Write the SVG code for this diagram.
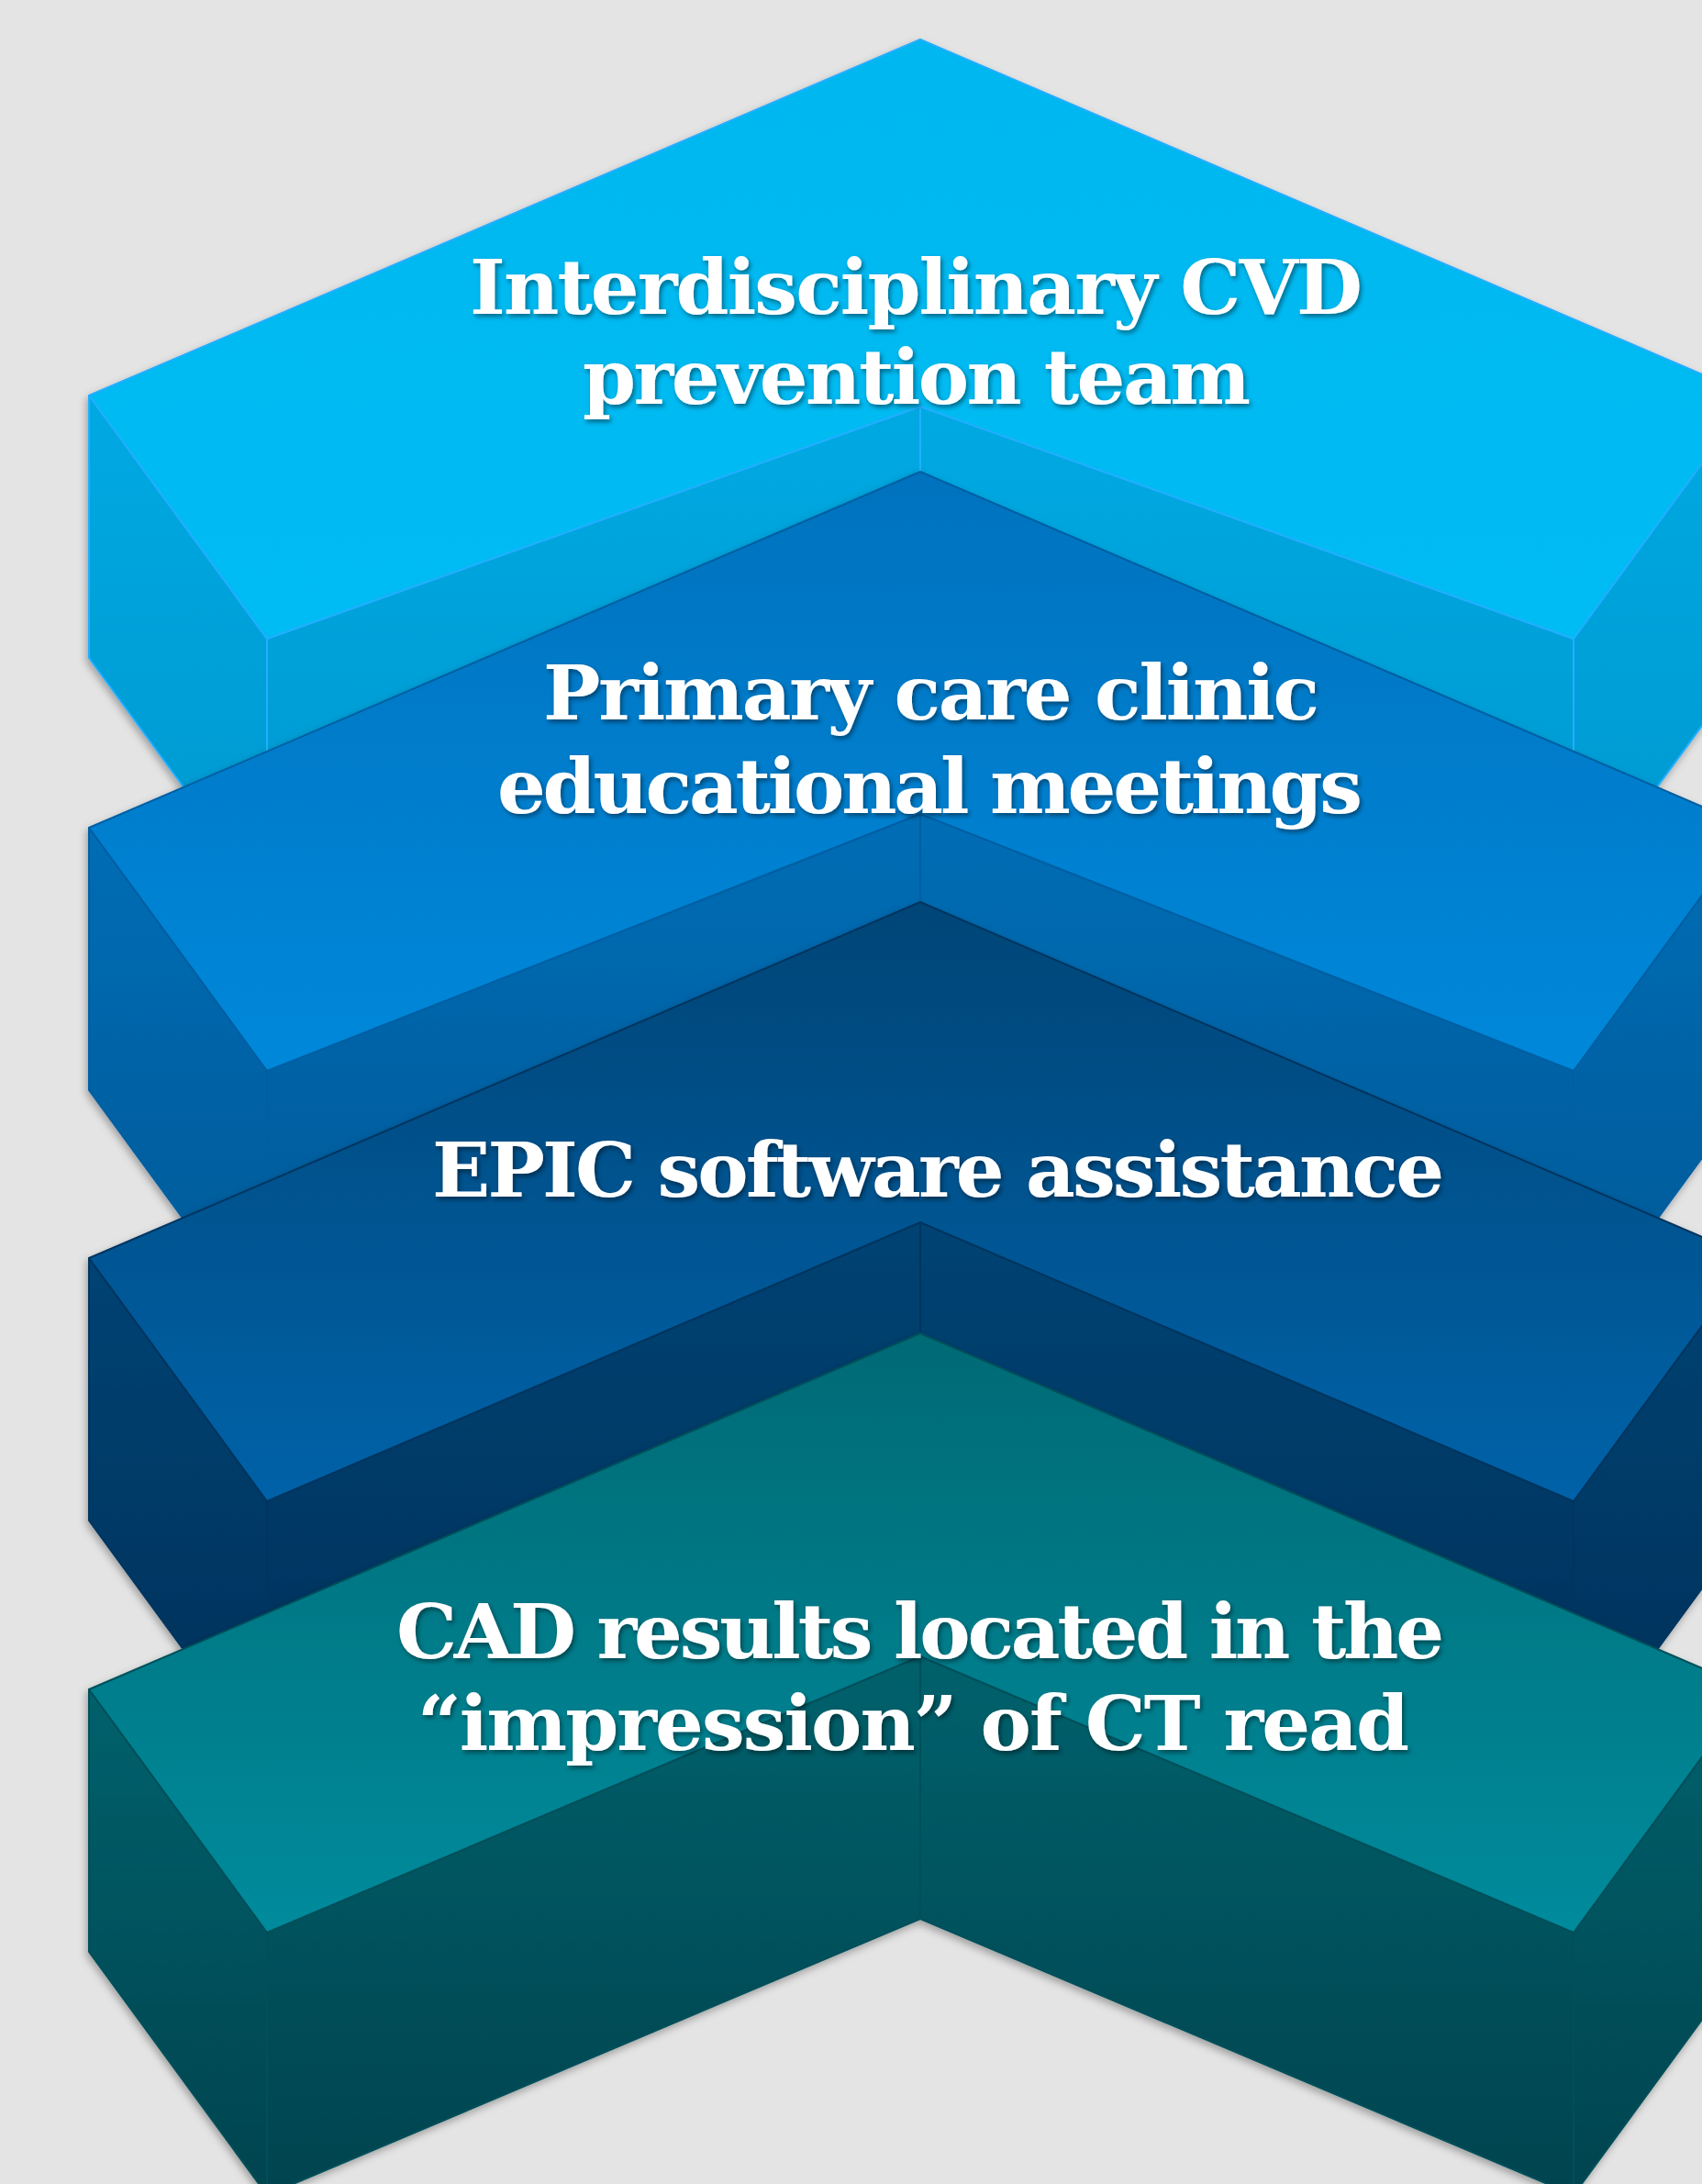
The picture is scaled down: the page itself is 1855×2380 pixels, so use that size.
<svg xmlns="http://www.w3.org/2000/svg" width="1855" height="2380" viewBox="0 0 1855 2380">
  <defs>
    <!-- face gradients, top to bottom -->
    <linearGradient id="c1Top" x1="0" y1="0" x2="0" y2="1"><stop offset="0" stop-color="#00B7EF"/><stop offset="1" stop-color="#00BCF4"/></linearGradient>
    <linearGradient id="c1Side" x1="0" y1="0" x2="0" y2="1"><stop offset="0" stop-color="#00A9E2"/><stop offset="1" stop-color="#0098D0"/></linearGradient>
    <linearGradient id="c2Top" x1="0" y1="0" x2="0" y2="1"><stop offset="0" stop-color="#0072BE"/><stop offset="1" stop-color="#0088DA"/></linearGradient>
    <linearGradient id="c2Side" x1="0" y1="0" x2="0" y2="1"><stop offset="0" stop-color="#006DB5"/><stop offset="1" stop-color="#005896"/></linearGradient>
    <linearGradient id="c3Top" x1="0" y1="0" x2="0" y2="1"><stop offset="0" stop-color="#044577"/><stop offset="1" stop-color="#0662A8"/></linearGradient>
    <linearGradient id="c3Side" x1="0" y1="0" x2="0" y2="1"><stop offset="0" stop-color="#034373"/><stop offset="1" stop-color="#01305A"/></linearGradient>
    <linearGradient id="c4Top" x1="0" y1="0" x2="0" y2="1"><stop offset="0" stop-color="#006A75"/><stop offset="1" stop-color="#008B9C"/></linearGradient>
    <linearGradient id="c4Side" x1="0" y1="0" x2="0" y2="1"><stop offset="0" stop-color="#00616C"/><stop offset="1" stop-color="#00434E"/></linearGradient>
    <filter id="blockShadow" x="-10%" y="-10%" width="120%" height="130%">
      <feDropShadow dx="-2" dy="4" stdDeviation="4" flood-color="#000" flood-opacity="0.3"/>
    </filter>
    <filter id="textShadow" x="-5%" y="-20%" width="110%" height="150%">
      <feDropShadow dx="2" dy="3" stdDeviation="2.5" flood-color="#000" flood-opacity="0.45"/>
    </filter>
  </defs>
  <style>
    .c1 polygon { stroke: #22AEFF; stroke-width: 2; stroke-linejoin: round; }
    .c2 polygon { stroke: #005FA3; stroke-width: 2; stroke-linejoin: round; }
    .c3 polygon { stroke: #02355F; stroke-width: 2; stroke-linejoin: round; }
    .c4 polygon { stroke: #00505A; stroke-width: 2; stroke-linejoin: round; }
    .c1 .side { fill: url(#c1Side); } .c1 .top { fill: url(#c1Top); }
    .c2 .side { fill: url(#c2Side); } .c2 .top { fill: url(#c2Top); }
    .c3 .side { fill: url(#c3Side); } .c3 .top { fill: url(#c3Top); }
    .c4 .side { fill: url(#c4Side); } .c4 .top { fill: url(#c4Top); }
    .block { filter: url(#blockShadow); }
    .label { font-family: "DejaVu Serif", "Liberation Serif", serif; font-weight: bold; font-size: 83px; fill: #FFFFFF; filter: url(#textShadow); }
  </style>

  <rect x="0" y="0" width="1855" height="2380" fill="#E4E4E4"/>

  <!-- step 1 -->
  <g id="step1" class="block c1">
    <polygon class="side" points="97,431 291,696 291,982 97,717"/>
    <polygon class="side" points="1715,696 1909,431 1909,717 1715,982"/>
    <polygon class="side" points="291,696 1003,443 1003,729 291,982"/>
    <polygon class="side" points="1003,443 1715,696 1715,982 1003,729"/>
    <polygon class="top" points="97,431 1003,43 1909,431 1715,696 1003,443 291,696"/>
    <text class="label" x="512" y="342" textLength="973" lengthAdjust="spacing">Interdisciplinary CVD</text>
    <text class="label" x="635" y="440" textLength="728" lengthAdjust="spacing">prevention team</text>
  </g>

  <!-- step 2 -->
  <g id="step2" class="block c2">
    <polygon class="side" points="97,902 291,1167 291,1453 97,1188"/>
    <polygon class="side" points="1715,1167 1909,902 1909,1188 1715,1453"/>
    <polygon class="side" points="291,1167 1003,887 1003,1173 291,1453"/>
    <polygon class="side" points="1003,887 1715,1167 1715,1453 1003,1173"/>
    <polygon class="top" points="97,902 1003,514 1909,902 1715,1167 1003,887 291,1167"/>
    <text class="label" x="592" y="784" textLength="846" lengthAdjust="spacing">Primary care clinic</text>
    <text class="label" x="542" y="886" textLength="943" lengthAdjust="spacing">educational meetings</text>
  </g>

  <!-- step 3 -->
  <g id="step3" class="block c3">
    <polygon class="side" points="97,1371 291,1636 291,1922 97,1657"/>
    <polygon class="side" points="1715,1636 1909,1371 1909,1657 1715,1922"/>
    <polygon class="side" points="291,1636 1003,1332 1003,1618 291,1922"/>
    <polygon class="side" points="1003,1332 1715,1636 1715,1922 1003,1618"/>
    <polygon class="top" points="97,1371 1003,983 1909,1371 1715,1636 1003,1332 291,1636"/>
    <text class="label" x="471" y="1304" textLength="1103" lengthAdjust="spacing">EPIC software assistance</text>
  </g>

  <!-- step 4 -->
  <g id="step4" class="block c4">
    <polygon class="side" points="97,1841 291,2106 291,2392 97,2127"/>
    <polygon class="side" points="1715,2106 1909,1841 1909,2127 1715,2392"/>
    <polygon class="side" points="291,2106 1003,1805 1003,2091 291,2392"/>
    <polygon class="side" points="1003,1805 1715,2106 1715,2392 1003,2091"/>
    <polygon class="top" points="97,1841 1003,1453 1909,1841 1715,2106 1003,1805 291,2106"/>
    <text class="label" x="432" y="1807" textLength="1142" lengthAdjust="spacing">CAD results located in the</text>
    <text class="label" x="455" y="1907" textLength="1081" lengthAdjust="spacing">“impression” of CT read</text>
  </g>

  <!-- no connectors in this figure -->
  <g id="connectors"/>
</svg>
